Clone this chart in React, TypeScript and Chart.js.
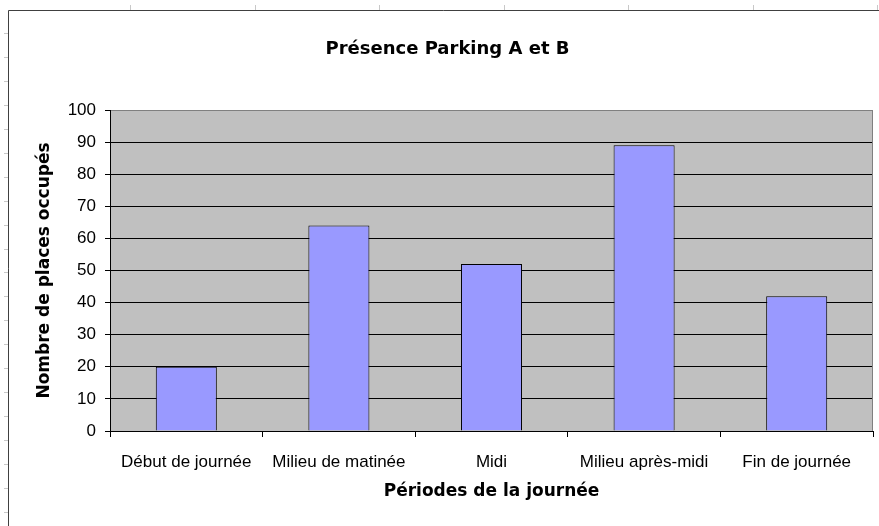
import React, { useEffect, useRef } from "react";
import { Chart, registerables } from "chart.js";

Chart.register(...registerables);

const categories = [
  "Début de journée",
  "Milieu de matinée",
  "Midi",
  "Milieu après-midi",
  "Fin de journée",
];
const occupiedPlaces = [20, 64, 52, 89, 42];
const yMin = 0;
const yMax = 100;
const yStep = 10;
const chartTitle = "Présence Parking A et B";
const xTitle = "Périodes de la journée";
const yTitle = "Nombre de places occupés";

const W = 879;
const H = 526;

const framePlugin = {
  id: "sheetFrame",
  beforeDraw(chart: any) {
    const { ctx, chartArea } = chart;
    ctx.save();
    ctx.fillStyle = "#ffffff";
    ctx.fillRect(0, 0, W, H);
    // spreadsheet cell marks
    ctx.strokeStyle = "#c8c8c8";
    ctx.lineWidth = 1;
    for (let x = 130; x < W; x += 124.5) {
      const px = Math.round(x) + 0.5;
      ctx.beginPath();
      ctx.moveTo(px, 5);
      ctx.lineTo(px, 10);
      ctx.stroke();
    }
    for (let y = 33; y < H; y += 23.95) {
      const py = Math.round(y) + 0.5;
      ctx.beginPath();
      ctx.moveTo(4, py);
      ctx.lineTo(8, py);
      ctx.stroke();
    }
    // frame
    ctx.strokeStyle = "#404040";
    ctx.beginPath();
    ctx.moveTo(8.5, H);
    ctx.lineTo(8.5, 10.5);
    ctx.lineTo(W, 10.5);
    ctx.stroke();
    // plot background
    ctx.fillStyle = "#c0c0c0";
    ctx.fillRect(
      chartArea.left,
      chartArea.top,
      chartArea.right - chartArea.left,
      chartArea.bottom - chartArea.top
    );
    ctx.restore();
  },
  afterDraw(chart: any) {
    const { ctx, chartArea } = chart;
    ctx.save();
    ctx.strokeStyle = "#808080";
    ctx.lineWidth = 1;
    const rx = Math.round(chartArea.right) - 0.5;
    ctx.beginPath();
    ctx.moveTo(rx, Math.round(chartArea.top) + 0.5);
    ctx.lineTo(rx, Math.round(chartArea.bottom));
    ctx.stroke();
    ctx.restore();
  },
};

export default function App() {
  const ref = useRef<HTMLCanvasElement | null>(null);

  useEffect(() => {
    if (!ref.current) return;
    const chart = new Chart(ref.current, {
      type: "bar",
      data: {
        labels: categories,
        datasets: [
          {
            label: chartTitle,
            data: occupiedPlaces,
            backgroundColor: "#9999ff",
            borderColor: "#000000",
            borderWidth: 1,
            barPercentage: 0.4,
            categoryPercentage: 1,
          },
        ],
      },
      options: {
        animation: false,
        responsive: false,
        devicePixelRatio: 1,
        layout: { padding: { left: 22, right: 6, top: 0, bottom: 0 } },
        plugins: {
          legend: { display: false },
          tooltip: { enabled: false },
          title: {
            display: true,
            text: chartTitle,
            color: "#000000",
            font: { family: "'DejaVu Sans'", size: 18, weight: "bold", lineHeight: 1.2 },
            padding: { top: 39, bottom: 49.4 },
          },
        },
        scales: {
          x: {
            offset: true,
            afterFit: (scale: any) => {
              scale.height = 95;
            },
            grid: {
              display: true,
              offset: true,
              drawOnChartArea: false,
              drawTicks: true,
              tickLength: 6,
              tickColor: "#000000",
              color: "#000000",
            },
            border: { display: true, color: "#000000", width: 1 },
            ticks: {
              autoSkip: false,
              maxRotation: 0,
              minRotation: 0,
              padding: 15,
              color: "#000000",
              font: { family: "'Liberation Sans'", size: 17 },
            },
            title: {
              display: true,
              text: xTitle,
              color: "#000000",
              font: { family: "'DejaVu Sans'", size: 17, weight: "bold", lineHeight: 1.2 },
              padding: { top: 0, bottom: 23.8 },
            },
          },
          y: {
            min: yMin,
            max: yMax,
            afterFit: (scale: any) => {
              scale.width = 88;
            },
            grid: {
              display: true,
              drawTicks: true,
              tickLength: 5,
              tickColor: "#000000",
              color: (c: any) => (c.tick && c.tick.value === yMax ? "#808080" : "#000000"),
            },
            border: { display: true, color: "#000000", width: 1 },
            ticks: {
              stepSize: yStep,
              padding: 9,
              color: "#000000",
              font: { family: "'Liberation Sans'", size: 17 },
            },
            title: {
              display: true,
              text: yTitle,
              color: "#000000",
              font: { family: "'DejaVu Sans'", size: 17, weight: "bold", lineHeight: 1.2 },
              padding: { top: 12.8, bottom: 0 },
            },
          },
        },
      },
      plugins: [framePlugin],
    });
    return () => chart.destroy();
  }, []);

  return (
    <div style={{ position: "absolute", left: 0, top: 0, width: W, height: H, background: "#fff" }}>
      <canvas ref={ref} width={W} height={H} style={{ display: "block", width: W, height: H }} />
    </div>
  );
}
